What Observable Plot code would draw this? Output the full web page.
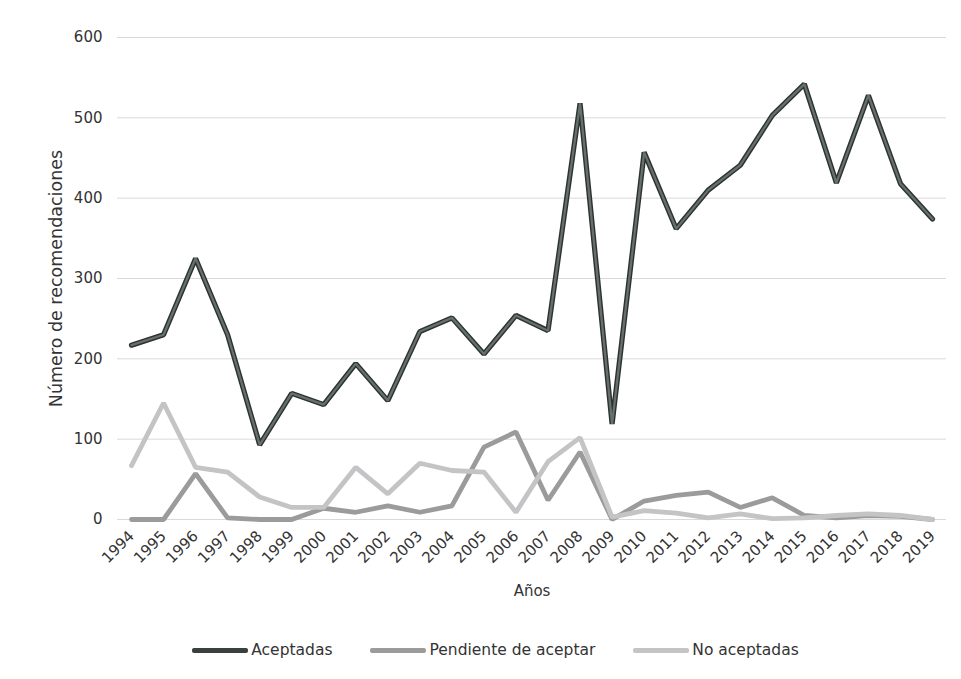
<!DOCTYPE html>
<html>
<head>
<meta charset="utf-8">
<script src="https://cdn.jsdelivr.net/npm/d3@7"></script>
<script src="https://cdn.jsdelivr.net/npm/@observablehq/plot@0.6"></script>
<style>
  html, body { margin: 0; padding: 0; background: #fff; }
  #chart { width: 961px; }
  .legend { display: flex; justify-content: center; align-items: center; height: 20px; margin-top: 20px;
    font-family: "DejaVu Sans", sans-serif; font-size: 15.5px; color: #333; padding-left: 30px; }
  .item { display: flex; align-items: center; margin: 0 19px; }
  .sw { display: inline-block; width: 56px; height: 5px; border-radius: 2px; margin-right: 3px; }
</style>
</head>
<body>
<div id="chart"></div>
<script>
const years = [1994,1995,1996,1997,1998,1999,2000,2001,2002,2003,2004,2005,2006,2007,2008,2009,2010,2011,2012,2013,2014,2015,2016,2017,2018,2019];
const aceptadas = [217,230,325,230,93,157,143,194,148,234,251,206,254,235,518,119,457,362,410,441,503,542,419,528,418,374];
const pendiente = [0,0,57,2,0,0,14,9,17,9,17,90,109,24,84,0,23,30,34,15,27,5,2,5,4,0];
const noAceptadas = [67,145,65,59,28,15,15,65,32,70,61,59,9,72,102,3,11,8,2,7,1,2,5,7,5,0];
const yTicks = [0,100,200,300,400,500,600];
const seriesNames = ["Aceptadas","Pendiente de aceptar","No aceptadas"];
const seriesColors = ["#4d5654","#9b9b9b","#c4c4c6"];

const rows = (vals, name) => years.map((y, i) => ({year: y, value: vals[i], serie: name}));
const dA = rows(aceptadas, seriesNames[0]);
const dP = rows(pendiente, seriesNames[1]);
const dN = rows(noAceptadas, seriesNames[2]);

const chart = Plot.plot({
  width: 961,
  height: 620,
  marginTop: 37,
  marginBottom: 101,
  marginLeft: 117,
  marginRight: 15,
  style: {fontFamily: "DejaVu Sans, sans-serif", fontSize: "15px", color: "#333", background: "#fff"},
  x: {domain: [1994, 2019], insetLeft: 14, insetRight: 14},
  y: {domain: [0, 600]},
  marks: [
    Plot.gridY(yTicks, {stroke: "#d9d9d9", strokeOpacity: 1, strokeWidth: 1}),
    Plot.axisY({ticks: yTicks, tickSize: 0, tickPadding: 15, label: null, fontSize: 15}),
    Plot.axisY({ticks: [], tickSize: 0, label: "Número de recomendaciones",
      labelAnchor: "center", labelOffset: 68, labelArrow: "none", fontSize: 17.5}),
    Plot.axisX({ticks: years, tickFormat: d => String(d), tickRotate: -45, tickSize: 0, tickPadding: 14,
      label: "Años", labelAnchor: "center", labelOffset: 76, labelArrow: "none", fontSize: 15}),
    Plot.line(dA, {x: "year", y: "value", stroke: "#2e3332", strokeWidth: 5.2, strokeLinejoin: "miter"}),
    Plot.line(dA, {x: "year", y: "value", stroke: "#66706d", strokeWidth: 2.3, strokeLinejoin: "miter"}),
    Plot.line(dP, {x: "year", y: "value", stroke: seriesColors[1], strokeWidth: 4.8, strokeLinejoin: "miter"}),
    Plot.line(dN, {x: "year", y: "value", stroke: seriesColors[2], strokeWidth: 4.8, strokeLinejoin: "miter"})
  ]
});
document.getElementById("chart").appendChild(chart);

const legend = document.createElement("div");
legend.className = "legend";
seriesNames.forEach((n, i) => {
  const it = document.createElement("span");
  it.className = "item";
  const sw = document.createElement("span");
  sw.className = "sw";
  sw.style.background = seriesColors[i];
  if (i === 0) sw.style.background = "#3a403f";
  const t = document.createElement("span");
  t.textContent = n;
  it.appendChild(sw); it.appendChild(t);
  legend.appendChild(it);
});
document.body.appendChild(legend);
</script>
</body>
</html>
